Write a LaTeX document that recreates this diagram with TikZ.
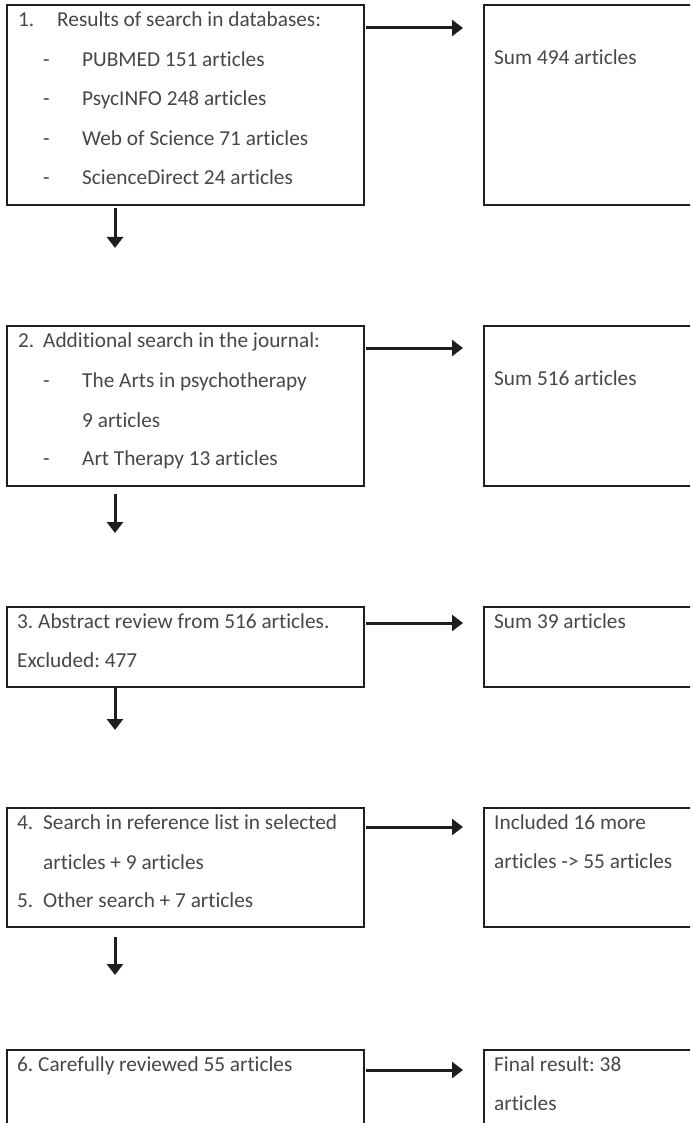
\documentclass[tikz,border=0pt]{standalone}
\usepackage{fontspec}
\setmainfont{Carlito}[Ligatures={NoCommon}]
\usepackage{xcolor}
\usetikzlibrary{arrows.meta,calc}
\definecolor{inkline}{HTML}{1E1E1E}
\definecolor{inktext}{HTML}{474747}
\tikzset{
	stage/.style={draw=inkline, line width=1.1pt, inner sep=0pt, outer sep=0pt,
			anchor=north west, minimum width=357pt},
	tally/.style={stage, minimum width=230pt},
	line/.style={text=inktext, inner sep=0pt, anchor=base west,
			font=\fontsize{21.3}{25}\selectfont},
	flow/.style={draw=inkline, line width=3pt, -{Triangle[length=11pt,width=16pt]}},
	stub/.style={draw=inkline, line width=1.8pt}
}
\frenchspacing

\begin{document}
\begin{tikzpicture}[x=1pt, y=-1pt]
        \clip (0,0) rectangle (690,1123);

        % Boxes on the left
        \node[stage, minimum height=200pt] (b1) at (7,5) {};
        \node[stage, minimum height=160pt] (b2) at (7,326) {};
        \node[stage, minimum height=80pt]  (b3) at (7,607) {};
        \node[stage, minimum height=119pt] (b4) at (7,808) {};
        \node[stage, minimum height=120pt] (b6) at (7,1050) {};

        % Boxes on the right
        \node[tally, minimum height=200pt] (s1) at (484,5) {};
        \node[tally, minimum height=160pt] (s2) at (484,326) {};
        \node[tally, minimum height=80pt]  (s3) at (484,607) {};
        \node[tally, minimum height=119pt] (s4) at (484,808) {};
        \node[tally, minimum height=120pt] (s6) at (484,1050) {};

        % Step 1
        \node[line] (n1) at (18,27) {1.};
        \node[line] (t1) at (57,27) {Results of search in databases:};
        \foreach \y/\name/\txt in {67/a/PUBMED 151 articles, 106/b/PsycINFO 248 articles,
                146/c/Web of Science 71 articles, 185/d/ScienceDirect 24 articles} {
            \node[line] (d1\name) at (43,\y) {-};
            \node[line] (t1\name) at (82,\y) {\txt};
        }
        \node[line] (r1) at (494,65) {Sum 494 articles};

        % Step 2
        \node[line] (n2) at (18,347) {2.};
        \node[line] (t2) at (43,347) {Additional search in the journal:};
        \node[line] (d2a) at (43,387) {-};
        \node[line] (t2a) at (82,387) {The Arts in psychotherapy};
        \node[line] (t2b) at (82,427) {9 articles};
        \node[line] (d2c) at (43,465) {-};
        \node[line] (t2c) at (82,465) {Art Therapy 13 articles};
        \node[line] (r2) at (494,385) {Sum 516 articles};

        % Step 3
        \node[line] (t3) at (17,628) {3. Abstract review from 516 articles.};
        \node[line] (t3a) at (17,667) {Excluded: 477};
        \node[line] (r3) at (494,628) {Sum 39 articles};

        % Steps 4 and 5
        \node[line] (n4) at (17,829) {4.};
        \node[line] (t4) at (43,829) {Search in reference list in selected};
        \node[line] (t4a) at (43,869) {articles + 9 articles};
        \node[line] (n5) at (17,907) {5.};
        \node[line] (t5) at (43,907) {Other search + 7 articles};
        \node[line] (r4) at (494,829) {Included 16 more};
        \node[line] (r4a) at (494,868) {articles -> 55 articles};

        % Step 6
        \node[line] (t6) at (17,1071) {6. Carefully reviewed 55 articles};
        \node[line] (r6) at (494,1071) {Final result: 38};
        \node[line] (r6a) at (494,1110) {articles};

        % Arrows to the right
        \foreach \b/\s/\dy in {b1/s1/23, b2/s2/22, b3/s3/16, b4/s4/19, b6/s6/20} {
            \draw[stub] ($(\b.north east)+(0,\dy-16)$) -- ($(\b.north east)+(0,\dy+22)$);
            \draw[flow] ($(\b.north east)+(2,\dy)$) -- ($(\s.north west)+(-21,\dy)$);
        }

        % Arrows down
        \draw[stub] ($(b1.south west)+(89,0)$) -- ($(b1.south west)+(127,0)$);
        \draw[stub] ($(b3.south west)+(89,0)$) -- ($(b3.south west)+(127,0)$);
        \draw[flow] ($(b1.south west)+(108,3)$) -- ($(b1.south west)+(108,43)$);
        \draw[flow] ($(b2.south west)+(108,8)$) -- ($(b2.south west)+(108,47)$);
        \draw[flow] ($(b3.south west)+(108,1)$) -- ($(b3.south west)+(108,43)$);
        \draw[flow] ($(b4.south west)+(108,10)$) -- ($(b4.south west)+(108,48)$);

    \end{tikzpicture}
\end{document}
